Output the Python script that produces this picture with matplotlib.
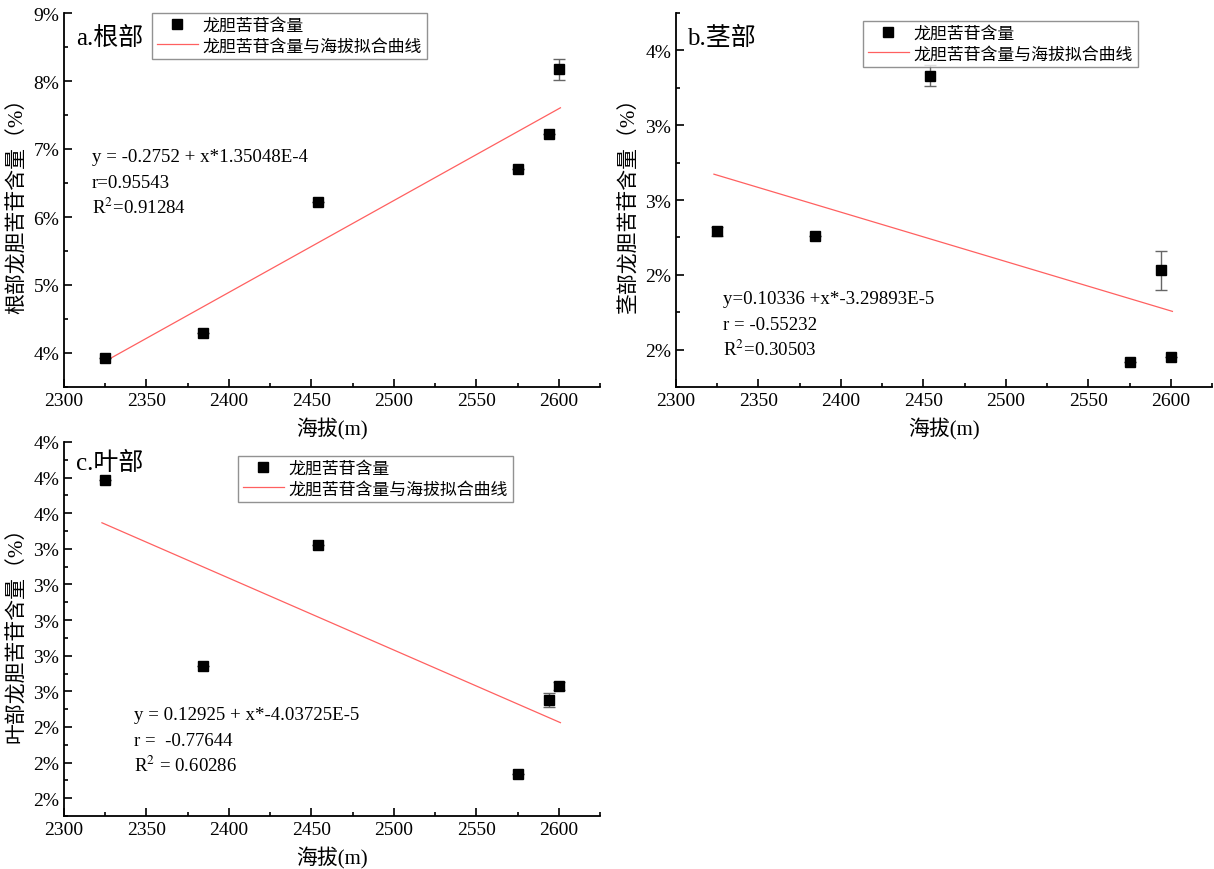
import matplotlib.pyplot as plt
from matplotlib.ticker import MultipleLocator, FuncFormatter

plt.rcParams['font.family'] = ['Liberation Serif', 'Noto Sans CJK SC']
plt.rcParams['mathtext.fontset'] = 'stix'

altitude = [2325, 2384, 2454, 2575, 2594, 2600]

root_content = [0.0392, 0.0429, 0.0622, 0.0671, 0.0722, 0.0817]
root_err = [0, 0, 0, 0, 0, 0.0015]
root_fit = (-0.2752, 1.35048e-4)
root_eq = ['y = -0.2752 + x*1.35048E-4', 'r=0.95543', 'R$^2$=0.91284']

stem_content = [0.0229, 0.0226, 0.0333, 0.0142, 0.0203, 0.01453]
stem_err = [0.0003, 0, 0.0007, 0, 0.0013, 0]
stem_fit = (0.10336, -3.29893e-5)
stem_eq = ['y=0.10336 +x*-3.29893E-5', 'r = -0.55232', 'R$^2$=0.30503']

leaf_content = [0.03787, 0.0274, 0.03423, 0.02135, 0.0255, 0.0263]
leaf_err = [0, 0, 0, 0, 0.0004, 0.0002]
leaf_fit = (0.12925, -4.03725e-5)
leaf_eq = ['y = 0.12925 + x*-4.03725E-5', 'r =  -0.77644', 'R$^2$ = 0.60286']

legend_labels = ['龙胆苦苷含量', '龙胆苦苷含量与海拔拟合曲线']

W, H = 1214, 870


def pct(v, pos):
    # origin style: round half up, no decimals
    return '{}%'.format(int(v * 100 + 0.5 + 1e-9))


def px(x, y):
    return x / W, 1 - y / H


def draw_panel(fig, ax, y, err, fit, title, ylabel, ylim, ystep, eq_lines, eq_xy, title_xy, leg_xy):
    x0, x1 = altitude[0] - 2, altitude[-1] + 1
    line, = ax.plot([x0, x1], [fit[0] + fit[1] * x0, fit[0] + fit[1] * x1],
                    color='#ff6060', lw=0.9)
    ax.errorbar(altitude, y, yerr=err, fmt='none', ecolor='#666666', elinewidth=1, capsize=4, capthick=1)
    pts, = ax.plot(altitude, y, 's', color='black', markersize=7, linestyle='none')
    ax.set_xlim(2300, 2625)
    ax.set_ylim(*ylim)
    ax.xaxis.set_major_locator(MultipleLocator(50))
    ax.xaxis.set_minor_locator(MultipleLocator(25))
    ax.yaxis.set_major_locator(MultipleLocator(ystep))
    ax.yaxis.set_minor_locator(MultipleLocator(ystep / 2))
    ax.yaxis.set_major_formatter(FuncFormatter(pct))
    ax.tick_params(which='both', direction='in', labelsize=14, width=1.2)
    ax.tick_params(which='major', length=6)
    ax.tick_params(which='minor', length=3)
    for s in ['top', 'right']:
        ax.spines[s].set_visible(False)
    for s in ['left', 'bottom']:
        ax.spines[s].set_linewidth(1.3)
    ax.patch.set_alpha(0)
    ax.set_xlabel('海拔(m)', fontsize=15, labelpad=6)
    ax.set_ylabel(ylabel, fontsize=15, labelpad=4)
    fig.text(*px(*title_xy), title, fontsize=18, va='center', ha='left')
    for i, t in enumerate(eq_lines):
        fig.text(*px(eq_xy[0], eq_xy[1] + i * 25), t, fontsize=13.6, va='center', ha='left')
    leg = ax.legend([pts, line], legend_labels, loc='upper left', bbox_to_anchor=px(*leg_xy),
                    bbox_transform=fig.transFigure,
                    fontsize=12.2, frameon=True, fancybox=False, edgecolor='#777777',
                    borderpad=0.3, handlelength=2.4, handletextpad=0.3,
                    labelspacing=0.25, borderaxespad=0)
    leg.get_frame().set_linewidth(1)


fig = plt.figure(figsize=(W / 100, H / 100), dpi=100)
ax_a = fig.add_axes([*px(64, 388), 536 / W, 374 / H])
ax_b = fig.add_axes([*px(676, 388), 536 / W, 374 / H])
ax_c = fig.add_axes([*px(64, 817), 536 / W, 374 / H])

draw_panel(fig, ax_a, root_content, root_err, root_fit, 'a.根部', '根部龙胆苦苷含量（%）',
           (0.035, 0.09), 0.01, root_eq, (92, 158), (76, 38), (152, 14))
draw_panel(fig, ax_b, stem_content, stem_err, stem_fit, 'b.茎部', '茎部龙胆苦苷含量（%）',
           (0.0125, 0.0375), 0.005, stem_eq, (723, 300), (687, 38), (863, 22))
draw_panel(fig, ax_c, leaf_content, leaf_err, leaf_fit, 'c.叶部', '叶部龙胆苦苷含量（%）',
           (0.019, 0.040), 0.002, leaf_eq, (134, 716), (76, 463), (238, 457))

fig.savefig('out.png', dpi=100)
